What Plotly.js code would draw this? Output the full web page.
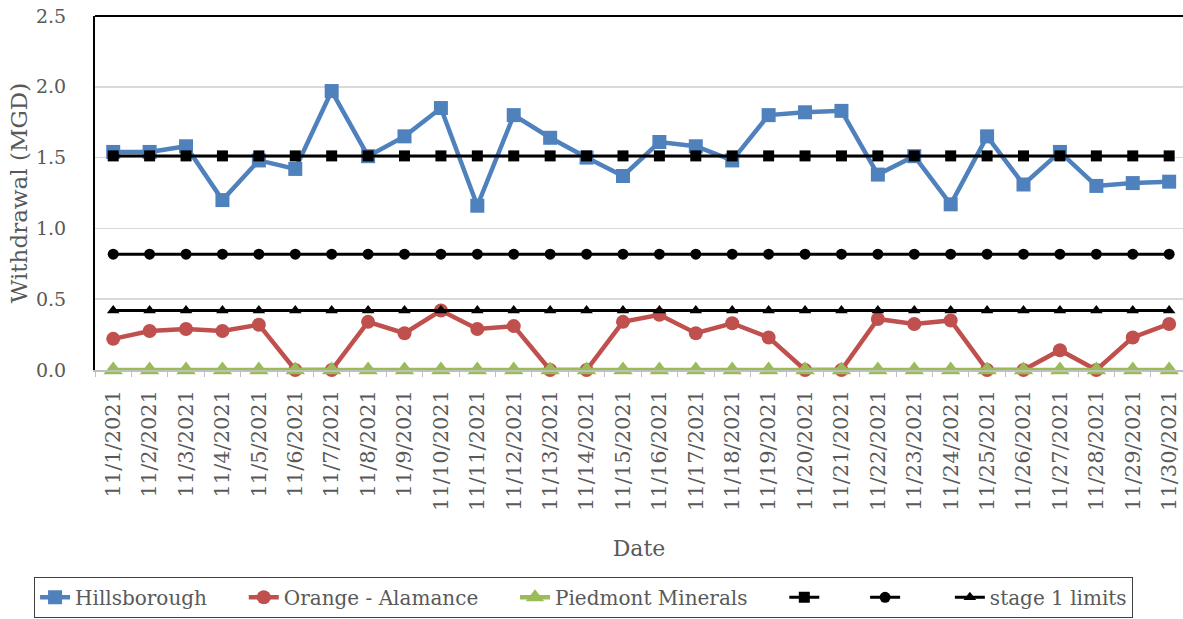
<!DOCTYPE html>
<html>
<head>
<meta charset="utf-8">
<script src="https://cdn.plot.ly/plotly-3.0.1.min.js"></script>
<style>
  html, body { margin: 0; padding: 0; background: #fff; }
  #chart { width: 1183px; height: 619px; }
</style>
</head>
<body>
<div id="chart"></div>
<script>
// withdrawal per day, November 2021 (MGD)
const dates = [
  '11/1/2021', '11/2/2021', '11/3/2021', '11/4/2021', '11/5/2021',
  '11/6/2021', '11/7/2021', '11/8/2021', '11/9/2021', '11/10/2021',
  '11/11/2021', '11/12/2021', '11/13/2021', '11/14/2021', '11/15/2021',
  '11/16/2021', '11/17/2021', '11/18/2021', '11/19/2021', '11/20/2021',
  '11/21/2021', '11/22/2021', '11/23/2021', '11/24/2021', '11/25/2021',
  '11/26/2021', '11/27/2021', '11/28/2021', '11/29/2021', '11/30/2021'
];

const hillsborough = [
  1.54, 1.54, 1.58, 1.20, 1.48, 1.42, 1.97, 1.51, 1.65, 1.85,
  1.16, 1.80, 1.64, 1.50, 1.37, 1.61, 1.58, 1.48, 1.80, 1.82,
  1.83, 1.38, 1.51, 1.17, 1.65, 1.31, 1.54, 1.30, 1.32, 1.33
];

const orangeAlamance = [
  0.22, 0.275, 0.29, 0.275, 0.32, 0, 0, 0.34, 0.26, 0.42,
  0.29, 0.31, 0, 0, 0.34, 0.39, 0.26, 0.33, 0.23, 0,
  0, 0.36, 0.325, 0.35, 0, 0, 0.14, 0, 0.23, 0.325
];

const piedmont = [
  0, 0, 0, 0, 0, 0, 0, 0, 0, 0,
  0, 0, 0, 0, 0, 0, 0, 0, 0, 0,
  0, 0, 0, 0, 0, 0, 0, 0, 0, 0
];

// stage 1 limits, one value per source
const limitHills = 1.512;
const limitOrange = 0.818;
const limitPiedmont = 0.42;

const font = 'DejaVu Serif';
// non-breaking spaces to widen the legend entries like the original
const pad = '\u00a0\u00a0\u00a0\u00a0\u00a0';
const blank = '\u00a0\u00a0\u00a0\u00a0\u00a0\u2009';

function flat(v) {
  return dates.map(function() { return v; });
}

const traces = [
  {
    x: dates, y: hillsborough, name: 'Hillsborough' + pad, mode: 'lines+markers',
    line: {color: '#4f81bd', width: 4.5},
    marker: {symbol: 'square', size: 14, color: '#4f81bd'}
  },
  {
    x: dates, y: orangeAlamance, name: 'Orange - Alamance' + pad, mode: 'lines+markers',
    line: {color: '#c0504d', width: 4.5},
    marker: {symbol: 'circle', size: 14, color: '#c0504d'}
  },
  {
    x: dates, y: piedmont, name: 'Piedmont Minerals' + pad, mode: 'lines+markers',
    line: {color: '#9bbb59', width: 4.5},
    marker: {symbol: 'triangle-up', size: 17, color: '#9bbb59'}
  },
  {
    x: dates, y: flat(limitHills), name: blank, mode: 'lines+markers',
    line: {color: '#000', width: 3},
    marker: {symbol: 'square', size: 11, color: '#000'}
  },
  {
    x: dates, y: flat(limitOrange), name: blank + '\u2009', mode: 'lines+markers',
    line: {color: '#000', width: 3},
    marker: {symbol: 'circle', size: 11, color: '#000'}
  },
  {
    x: dates, y: flat(limitPiedmont), name: 'stage 1 limits', mode: 'lines+markers',
    line: {color: '#000', width: 3},
    marker: {symbol: 'triangle-up', size: 11, color: '#000'}
  }
];

traces.forEach(function(t) { t.cliponaxis = false; });

const layout = {
  width: 1183,
  height: 619,
  margin: {l: 95, r: 0, t: 16, b: 249},
  paper_bgcolor: '#fff',
  plot_bgcolor: '#fff',
  font: {family: font, size: 20, color: '#595959'},
  showlegend: true,
  legend: {
    orientation: 'h',
    xref: 'paper', yref: 'paper',
    x: -0.056, xanchor: 'left',
    y: -0.70, yanchor: 'bottom',
    bordercolor: '#404040', borderwidth: 1,
    bgcolor: '#fff',
    font: {family: font, size: 20, color: '#595959'},
    traceorder: 'normal'
  },
  xaxis: {
    type: 'category',
    range: [-0.5, 29.38],
    tickangle: -90,
    tickson: 'boundaries',
    ticks: 'outside',
    ticklen: 5,
    tickcolor: '#bfbfbf',
    ticklabelstandoff: 10,
    showgrid: false,
    showline: true,
    linecolor: '#bfbfbf',
    linewidth: 1.5,
    zeroline: false,
    tickfont: {family: font, size: 21, color: '#595959'},
    title: {text: 'Date', font: {family: font, size: 22, color: '#595959'}, standoff: 30}
  },
  yaxis: {
    range: [0, 2.5],
    dtick: 0.5,
    tickformat: '.1f',
    showgrid: true,
    gridcolor: '#d9d9d9',
    gridwidth: 1.5,
    showline: true,
    linecolor: '#000',
    linewidth: 2,
    zeroline: false,
    ticks: '',
    ticklabelstandoff: 23,
    tickfont: {family: font, size: 19, color: '#595959'},
    title: {text: 'Withdrawal (MGD)', font: {family: font, size: 23, color: '#595959'}, standoff: 2}
  },
  shapes: [
    {type: 'line', xref: 'paper', yref: 'paper', x0: 0, x1: 1, y0: 1, y1: 1,
     line: {color: '#000', width: 2}}
  ]
};

Plotly.newPlot('chart', traces, layout, {displayModeBar: false, staticPlot: true});
</script>
</body>
</html>
